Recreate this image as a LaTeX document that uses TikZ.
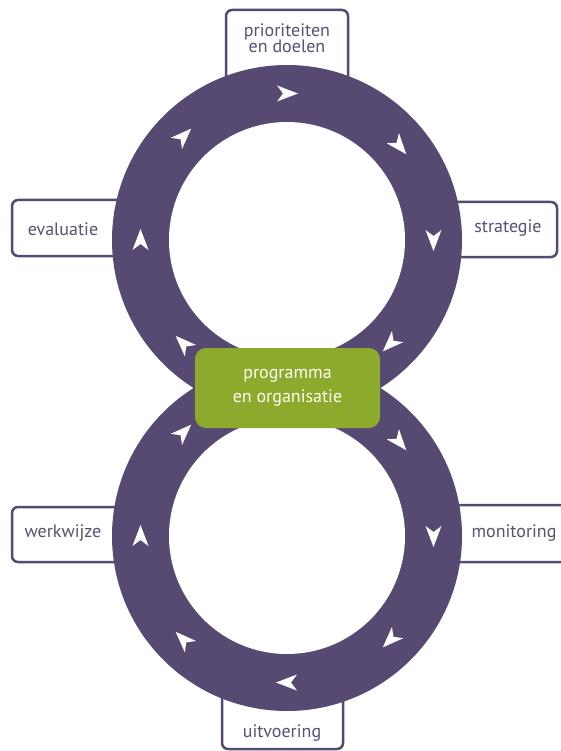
\documentclass[tikz,border=0pt]{standalone}
\usepackage{fontspec}
\setmainfont{PT Sans}
\definecolor{ringpurple}{RGB}{86,74,114}
\definecolor{textpurple}{RGB}{90,80,112}
\definecolor{hubgreen}{RGB}{140,170,44}
\tikzset{
    stagebox/.style={draw=ringpurple, line width=2.5pt, fill=white, rounded corners=6pt},
    stagetext/.style={text=textpurple, font=\fontsize{18}{16.5}\selectfont, align=center, inner sep=0pt}
}
\tikzset{
    hub/.style={rectangle, fill=hubgreen, rounded corners=11pt, text=white!95!yellow,
        font=\fontsize{18}{24}\selectfont, align=center, minimum width=185pt, minimum height=80pt}
}
\newcommand{\flowtip}{(11,0) -- (-10,8) -- (-4,0) -- (-10,-8) -- cycle}

\begin{document}
\begin{tikzpicture}[x=1pt, y=1pt]
    \useasboundingbox (0,0) rectangle (560,-751);

    % frames, the rings cover their inner ends
    \draw[stagebox] (226,-10) rectangle (348,-95);
    \draw[stagebox] (12,-200) rectangle (130,-256);
    \draw[stagebox] (440,-202) rectangle (557,-257);
    \draw[stagebox] (12,-507) rectangle (130,-562);
    \draw[stagebox] (440,-505) rectangle (575,-562);
    \draw[stagebox] (222,-680) rectangle (343,-749);

    \node (prio) at (287,-38) [stagetext] {prioriteiten\\en doelen};
    \node (eval) at (63,-229) [stagetext] {evaluatie};
    \node (strat) at (508,-228) [stagetext] {strategie};
    \node (werk) at (63,-533) [stagetext] {werkwijze};
    \node (moni) at (514,-533) [stagetext] {monitoring};
    \node (uitv) at (282,-733) [stagetext] {uitvoering};

    \coordinate (up) at (287,-240);
    \coordinate (low) at (287,-536);

    \fill[ringpurple] (up) circle [radius=175pt] (low) circle [radius=175pt];
    \fill[white] (up) circle [radius=118pt] (low) circle [radius=118pt];

    \foreach \a in {90,40,0,-45,-135,180,135} {
        \fill[white, shift={(up)}, shift={(\a:146.5)}, rotate=\a-90] \flowtip;
    }
    \foreach \a in {40,0,-45,-90,-135,180,135} {
        \fill[white, shift={(low)}, shift={(\a:146.5)}, rotate=\a-90] \flowtip;
    }

    \node (hub) at (287.5,-388) [hub] {programma\\en organisatie};
\end{tikzpicture}
\end{document}
